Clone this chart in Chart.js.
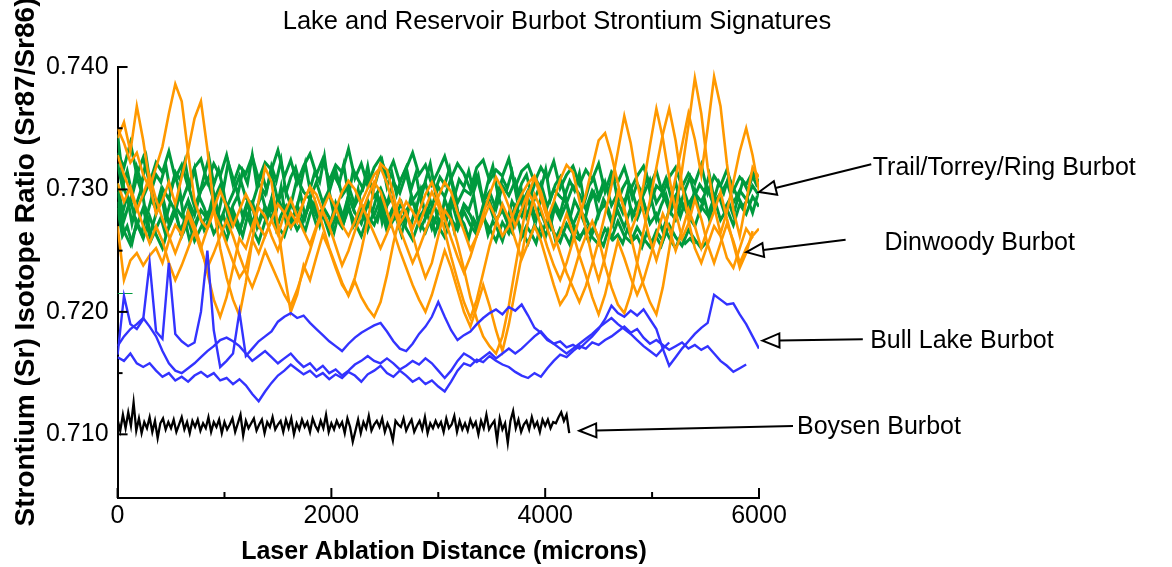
<!DOCTYPE html>
<html>
<head>
<meta charset="utf-8">
<script src="https://cdn.jsdelivr.net/npm/chart.js@4.4.1/dist/chart.umd.min.js"></script>
<style>
  body { margin: 0; background: #fff; }
  canvas { display: block; }
</style>
</head>
<body>
<canvas id="srChart" width="1172" height="567"></canvas>
<script>
const chartTitle = 'Lake and Reservoir Burbot Strontium Signatures';
const xTitle = 'Laser Ablation Distance (microns)';
const yTitle = 'Strontium (Sr) Isotope Ratio (Sr87/Sr86)';

// tick positions
const xTicks = [0, 1000, 2000, 3000, 4000, 5000, 6000];
const yTicks = [0.710, 0.715, 0.720, 0.725, 0.730, 0.735, 0.740];

// sample spacing along the transect (microns)
const lakeStep = 60;
const trailStepB = 45;
const boysenStep = 25;

// Trail / Torrey / Ring burbot (green)
const trail1 = [
  .7330,.7318,.7338,.7312,.7326,.7305,.7322,.7314,.7331,.7309,
  .7320,.7302,.7318,.7325,.7306,.7321,.7311,.7328,.7304,.7319,
  .7313,.7327,.7308,.7322,.7316,.7332,.7310,.7324,.7305,.7319,
  .7329,.7312,.7325,.7307,.7320,.7314,.7333,.7309,.7321,.7303,
  .7318,.7326,.7311,.7323,.7306,.7317,.7330,.7312,.7320,.7304,
  .7315,.7327,.7309,.7321,.7313,.7300,.7318,.7324,.7307,.7316,
  .7311,.7325,.7302,.7315,.7320,.7306,.7318,.7309,.7323,.7301,
  .7312,.7319,.7304,.7316,.7308,.7321,.7298,.7314,.7306,.7318,
  .7300,.7311,.7319,.7303,.7315,.7296,.7310,.7318,.7302,.7313,
  .7305,.7320,.7297,.7311,.7303,.7316,.7299,.7310,.7304,.7314,
  .7306];
const trail2 = [
  .7345,.7300,.7289,.7310,.7294,.7306,.7283,.7301,.7292,.7312,
  .7290,.7304,.7286,.7299,.7308,.7291,.7303,.7285,.7297,.7311,
  .7293,.7288,.7305,.7296,.7314,.7290,.7302,.7287,.7309,.7298,
  .7292,.7306,.7289,.7300,.7316,.7295,.7303,.7287,.7298,.7310,
  .7294,.7301,.7288,.7306,.7297,.7313,.7291,.7299,.7305,.7286,
  .7302,.7294,.7309,.7289,.7300,.7296,.7311,.7290,.7298,.7284,
  .7303,.7295,.7307,.7288,.7299,.7292,.7305,.7286,.7300,.7294,
  .7289,.7303,.7296,.7284,.7299,.7291,.7306,.7287,.7297,.7290,
  .7302,.7285,.7296,.7308,.7289,.7298,.7283,.7295,.7304,.7288,
  .7297,.7290,.7301,.7286,.7296,.7306,.7289,.7299,.7292,.7303,
  .7295];
const trail3 = [
  .7305,.7275,.7292,.7270,.7285,.7262,.7280,.7295,.7272,.7286,
  .7278,.7291,.7268,.7283,.7276,.7297,.7274,.7288,.7279,.7265,
  .7284,.7290,.7271,.7286,.7277,.7293,.7280,.7269,.7287,.7275,
  .7291,.7279,.7284,.7268,.7289,.7276,.7295,.7281,.7272,.7288,
  .7279,.7293,.7274,.7286,.7270,.7283,.7290,.7277,.7285,.7268,
  .7282,.7276,.7292,.7273,.7287,.7279,.7266,.7284,.7291,.7275,
  .7283,.7270,.7287,.7278,.7292,.7274,.7281,.7268,.7286,.7276,
  .7289,.7271,.7283,.7277,.7264,.7281,.7288,.7273,.7282,.7269,
  .7285,.7276,.7290,.7272,.7280,.7266,.7283,.7275,.7289,.7278,
  .7270,.7286,.7279,.7293,.7275,.7284,.7271,.7288,.7280,.7294,
  .7286];
const trail4 = [
  .7290,.7266,.7255,.7272,.7260,.7278,.7263,.7252,.7270,.7281,
  .7262,.7275,.7258,.7269,.7280,.7264,.7273,.7259,.7276,.7266,
  .7282,.7268,.7257,.7274,.7285,.7270,.7262,.7279,.7267,.7276,
  .7288,.7271,.7280,.7264,.7277,.7269,.7284,.7273,.7262,.7278,
  .7271,.7286,.7266,.7275,.7281,.7268,.7259,.7274,.7265,.7279,
  .7270,.7261,.7276,.7267,.7282,.7271,.7263,.7277,.7268,.7258,
  .7273,.7264,.7279,.7266,.7256,.7271,.7262,.7276,.7265,.7257,
  .7272,.7263,.7259,.7270,.7261,.7255,.7268,.7260,.7274,.7262,
  .7257,.7269,.7260,.7253,.7266,.7258,.7271,.7261,.7254,.7267,
  .7259,.7252,.7258];
const trail5 = [
  .7321,.7302,.7315,.7296,.7318,.7304,.7325,.7299,.7312,.7306,
  .7320,.7298,.7314,.7308,.7323,.7301,.7317,.7295,.7311,.7326,
  .7304,.7316,.7300,.7322,.7309,.7296,.7315,.7305,.7328,.7302,
  .7313,.7299,.7319,.7307,.7324,.7297,.7310,.7318,.7303,.7321,
  .7300,.7314,.7306,.7327,.7298,.7312,.7304,.7320,.7295,.7316,
  .7308,.7301,.7319,.7297,.7311,.7323,.7302,.7314,.7296,.7309,
  .7318,.7300,.7313,.7292,.7307,.7321,.7299,.7310,.7304,.7317,
  .7294,.7308,.7302,.7315,.7298,.7311,.7290,.7306,.7319,.7297,
  .7309,.7301,.7314,.7293,.7305,.7312,.7296,.7308,.7300,.7316,
  .7292,.7304,.7310,.7295,.7307,.7299,.7313,.7289,.7303,.7309,
  .7294,.7306,.7298,.7312,.7290,.7301,.7308,.7293,.7305,.7297,
  .7311,.7291,.7303,.7299,.7309,.7294,.7306,.7288,.7300,.7310,
  .7295,.7304,.7298,.7312,.7292,.7306,.7297,.7310,.7301,.7293,
  .7307,.7299,.7311,.7302];
const trail6 = [
  .7298,.7280,.7295,.7272,.7289,.7301,.7277,.7292,.7284,.7299,
  .7275,.7290,.7282,.7297,.7270,.7288,.7279,.7294,.7285,.7273,
  .7291,.7281,.7299,.7276,.7287,.7295,.7278,.7290,.7271,.7286,
  .7296,.7280,.7292,.7283,.7302,.7274,.7289,.7281,.7297,.7277,
  .7293,.7285,.7271,.7290,.7298,.7279,.7288,.7276,.7295,.7284,
  .7300,.7278,.7291,.7282,.7296,.7273,.7287,.7293,.7280,.7289,
  .7275,.7294,.7283,.7299,.7277,.7290,.7285,.7270,.7292,.7281,
  .7297,.7276,.7288,.7283,.7295,.7272,.7287,.7291,.7279,.7296,
  .7284,.7274,.7290,.7282,.7298,.7278,.7289,.7275,.7293,.7285,
  .7270,.7288,.7280,.7296,.7276,.7291,.7283,.7273,.7289,.7297,
  .7279,.7292,.7284,.7271,.7290,.7281,.7298,.7277,.7288,.7294,
  .7280,.7291,.7275,.7287,.7296,.7282,.7293,.7278,.7290,.7284,
  .7299,.7281,.7292,.7276,.7289,.7295,.7283,.7290,.7279,.7294,
  .7286,.7292,.7281,.7295];
const trail7 = [
  .7285,.7262,.7270,.7256,.7274,.7264,.7281,.7259,.7268,.7277,
  .7263,.7272,.7284,.7266,.7275,.7258,.7271,.7280,.7267,.7276,
  .7289,.7270,.7279,.7265,.7283,.7273,.7262,.7278,.7287,.7269,
  .7281,.7274,.7292,.7268,.7279,.7286,.7271,.7283,.7275,.7266,
  .7280,.7290,.7272,.7284,.7277,.7265,.7281,.7273,.7288,.7270,
  .7278,.7285,.7267,.7279,.7274,.7290,.7269,.7282,.7276,.7263,
  .7280,.7271,.7286,.7268,.7277,.7283,.7264,.7275,.7270,.7284,
  .7266,.7278,.7272,.7260,.7276,.7269,.7281,.7263,.7274,.7267,
  .7258,.7272,.7265,.7279,.7261,.7270,.7264,.7256,.7271,.7262,
  .7275,.7259,.7268,.7263,.7255,.7270,.7261,.7266,.7257,.7269,
  .7260,.7254,.7267,.7259,.7263,.7256,.7268,.7258,.7262,.7253,
  .7265,.7257,.7261,.7254,.7266,.7258,.7252,.7262,.7256,.7260,
  .7255];
const trailMarkX = [0, 140];
const trailMark = [.7215, .7215];

// Dinwoody burbot (orange)
const dinwoody1 = [
  .7350,.7338,.7322,.7330,.7312,.7301,.7318,.7335,.7362,.7386,
  .7372,.7330,.7291,.7275,.7268,.7282,.7270,.7255,.7241,.7228,
  .7236,.7259,.7248,.7262,.7275,.7263,.7280,.7292,.7278,.7266,
  .7255,.7270,.7284,.7296,.7285,.7271,.7262,.7274,.7289,.7301,
  .7312,.7318,.7305,.7287,.7268,.7254,.7240,.7252,.7266,.7280,
  .7294,.7306,.7298,.7281,.7266,.7251,.7262,.7275,.7288,.7276,
  .7262,.7270,.7284,.7296,.7305,.7311,.7298,.7280,.7265,.7248,
  .7232,.7220,.7208,.7221,.7239,.7258,.7280,.7303,.7331,.7360,
  .7338,.7306,.7281,.7259,.7242,.7260,.7284,.7310,.7336,.7362,
  .7341,.7312,.7350,.7392,.7368,.7321,.7283,.7262,.7290,.7318,
  .7310];
const dinwoody2 = [
  .7342,.7355,.7331,.7368,.7340,.7305,.7280,.7291,.7306,.7288,
  .7310,.7332,.7358,.7372,.7333,.7285,.7252,.7228,.7210,.7197,
  .7224,.7258,.7291,.7318,.7306,.7270,.7232,.7200,.7214,.7238,
  .7226,.7245,.7263,.7251,.7236,.7222,.7214,.7228,.7250,.7275,
  .7302,.7321,.7316,.7296,.7272,.7281,.7263,.7244,.7228,.7240,
  .7262,.7283,.7275,.7256,.7235,.7212,.7194,.7180,.7172,.7166,
  .7180,.7205,.7236,.7266,.7295,.7310,.7293,.7276,.7290,.7308,
  .7320,.7314,.7291,.7268,.7244,.7226,.7245,.7271,.7298,.7285,
  .7262,.7240,.7222,.7208,.7198,.7220,.7251,.7282,.7316,.7352,
  .7391,.7362,.7318,.7286,.7264,.7282,.7306,.7331,.7350,.7328,
  .7299];
const dinwoody3 = [
  .7270,.7226,.7242,.7248,.7238,.7246,.7252,.7240,.7258,.7271,
  .7263,.7282,.7270,.7254,.7232,.7210,.7196,.7212,.7236,.7260,
  .7252,.7270,.7285,.7278,.7262,.7250,.7266,.7281,.7273,.7290,
  .7302,.7288,.7270,.7252,.7238,.7224,.7213,.7225,.7212,.7203,
  .7196,.7208,.7230,.7256,.7278,.7290,.7282,.7271,.7285,.7298,
  .7287,.7266,.7245,.7226,.7208,.7195,.7210,.7232,.7254,.7272,
  .7288,.7276,.7259,.7243,.7256,.7270,.7258,.7240,.7222,.7206,
  .7214,.7230,.7248,.7262,.7274,.7260,.7238,.7220,.7206,.7199,
  .7215,.7240,.7266,.7291,.7318,.7345,.7366,.7340,.7304,.7275,
  .7252,.7240,.7255,.7270,.7262,.7244,.7236,.7252,.7268,.7260];
const dinwoody4 = [
  .7328,.7312,.7298,.7283,.7296,.7311,.7292,.7276,.7262,.7248,
  .7262,.7279,.7265,.7252,.7268,.7284,.7299,.7286,.7270,.7283,
  .7296,.7285,.7270,.7262,.7275,.7288,.7281,.7269,.7276,.7290,
  .7302,.7296,.7282,.7270,.7284,.7298,.7307,.7300,.7288,.7276,
  .7264,.7252,.7264,.7279,.7292,.7280,.7268,.7282,.7296,.7306,
  .7292,.7276,.7260,.7245,.7232,.7245,.7262,.7280,.7296,.7310,
  .7300,.7286,.7270,.7284,.7298,.7288,.7270,.7253,.7238,.7226,
  .7240,.7258,.7277,.7296,.7318,.7340,.7346,.7328,.7305,.7282,
  .7265,.7280,.7304,.7336,.7366,.7342,.7310,.7282,.7260,.7272,
  .7292,.7276,.7255,.7240,.7256,.7272,.7258,.7240,.7252,.7262,
  .7268];
const dinwoody5 = [
  .7305,.7290,.7302,.7285,.7270,.7256,.7270,.7258,.7240,.7226,
  .7238,.7252,.7266,.7250,.7236,.7248,.7262,.7275,.7262,.7246,
  .7232,.7220,.7234,.7250,.7238,.7226,.7214,.7205,.7218,.7234,
  .7250,.7268,.7282,.7270,.7254,.7238,.7250,.7266,.7280,.7294,
  .7306,.7298,.7282,.7266,.7250,.7236,.7222,.7210,.7200,.7214,
  .7232,.7250,.7236,.7218,.7200,.7188,.7204,.7222,.7205,.7185,
  .7168,.7190,.7218,.7246,.7274,.7296,.7284,.7268,.7252,.7264,
  .7280,.7264,.7246,.7230,.7212,.7198,.7214,.7236,.7258,.7244,
  .7228,.7214,.7226,.7244,.7262,.7280,.7268,.7250,.7266,.7284,
  .7270,.7252,.7268,.7282,.7298,.7276,.7256,.7236,.7248,.7266];

// Bull Lake burbot (blue)
const bullLake1 = [
  .7165,.7213,.7190,.7186,.7194,.7240,.7184,.7178,.7240,.7182,
  .7176,.7172,.7175,.7200,.7250,.7185,.7155,.7160,.7166,.7200,
  .7164,.7170,.7176,.7180,.7184,.7192,.7196,.7199,.7195,.7197,
  .7191,.7186,.7181,.7176,.7172,.7168,.7174,.7179,.7183,.7186,
  .7189,.7191,.7184,.7176,.7170,.7168,.7174,.7182,.7188,.7196,
  .7208,.7196,.7185,.7177,.7181,.7184,.7190,.7195,.7199,.7202,
  .7198,.7204,.7201,.7206,.7197,.7187,.7183,.7177,.7174,.7176,
  .7171,.7173,.7170,.7175,.7180,.7186,.7194,.7205,.7199,.7196,
  .7201,.7197,.7202,.7194,.7186,.7170,.7156,.7163,.7170,.7176,
  .7182,.7187,.7191,.7214,.7210,.7206,.7207,.7198,.7190,.7180,
  .7170];
const bullLake2 = [
  .7163,.7160,.7166,.7158,.7155,.7158,.7152,.7147,.7150,.7144,
  .7147,.7143,.7148,.7151,.7147,.7150,.7144,.7146,.7141,.7145,
  .7140,.7133,.7127,.7135,.7142,.7148,.7152,.7157,.7153,.7149,
  .7152,.7147,.7150,.7145,.7149,.7146,.7151,.7148,.7143,.7149,
  .7152,.7156,.7150,.7147,.7152,.7148,.7143,.7146,.7141,.7144,
  .7139,.7135,.7143,.7152,.7158,.7156,.7161,.7159,.7164,.7160,
  .7157,.7155,.7151,.7148,.7146,.7150,.7147,.7154,.7160,.7165,
  .7163,.7168,.7172,.7170,.7175,.7173,.7177,.7180,.7184,.7188,
  .7183,.7186,.7179,.7174,.7177,.7173,.7169,.7172,.7175,.7170,
  .7173,.7169,.7172,.7166,.7160,.7156,.7151,.7154,.7157];
const bullLake3 = [
  .7172,.7180,.7186,.7190,.7195,.7188,.7180,.7168,.7158,.7152,
  .7150,.7154,.7158,.7163,.7168,.7172,.7177,.7179,.7176,.7172,
  .7166,.7160,.7164,.7168,.7163,.7158,.7162,.7166,.7160,.7155,
  .7158,.7152,.7156,.7150,.7153,.7148,.7152,.7157,.7160,.7164,
  .7160,.7158,.7162,.7158,.7153,.7156,.7160,.7157,.7162,.7158,
  .7152,.7146,.7152,.7160,.7166,.7163,.7159,.7163,.7167,.7162,
  .7166,.7170,.7166,.7170,.7175,.7180,.7184,.7178,.7174,.7170,
  .7166,.7170,.7174,.7178,.7182,.7187,.7191,.7195,.7190,.7186,
  .7182,.7177,.7172,.7168,.7164,.7170,.7175];

// Boysen burbot (black)
const boysen = [
  .7112,.7103,.7116,.7105,.7118,.7107,.7126,.7103,.7113,.7101,
  .7110,.7105,.7114,.7102,.7111,.7097,.7109,.7113,.7104,.7110,
  .7105,.7112,.7102,.7108,.7114,.7104,.7110,.7101,.7111,.7106,
  .7112,.7103,.7109,.7105,.7114,.7102,.7110,.7106,.7112,.7101,
  .7110,.7104,.7108,.7113,.7102,.7109,.7116,.7099,.7111,.7105,
  .7109,.7113,.7103,.7108,.7112,.7101,.7110,.7106,.7114,.7104,
  .7108,.7111,.7102,.7112,.7105,.7113,.7100,.7109,.7104,.7112,
  .7106,.7110,.7102,.7113,.7107,.7103,.7111,.7105,.7116,.7102,
  .7109,.7104,.7111,.7106,.7110,.7101,.7113,.7106,.7094,.7103,
  .7112,.7101,.7110,.7105,.7115,.7103,.7108,.7111,.7106,.7113,
  .7102,.7109,.7104,.7095,.7111,.7108,.7106,.7113,.7103,.7108,
  .7112,.7102,.7107,.7111,.7104,.7114,.7101,.7109,.7105,.7111,
  .7106,.7110,.7102,.7113,.7105,.7108,.7115,.7102,.7111,.7104,
  .7109,.7103,.7112,.7106,.7110,.7100,.7111,.7105,.7116,.7104,
  .7108,.7111,.7095,.7113,.7104,.7109,.7093,.7111,.7119,.7105,
  .7112,.7102,.7108,.7111,.7104,.7114,.7106,.7110,.7102,.7112,
  .7107,.7112,.7105,.7110,.7109,.7114,.7118,.7111,.7116,.7101];

// labels + arrows, placed in data units (tip, tail, text anchor)
const notes = [
  { text: 'Trail/Torrey/Ring Burbot', tip: [6000, .72979], tail: [7050, .73206], at: [7064, .73122] },
  { text: 'Dinwoody Burbot', tip: [5882, .72488], tail: [6810, .72590], at: [7174, .72508] },
  { text: 'Bull Lake Burbot', tip: [6032, .71765], tail: [6971, .71776], at: [7040, .71702] },
  { text: 'Boysen Burbot', tip: [4319, .71029], tail: [6318, .71069], at: [6355, .71002] }
];

const GREEN = '#009a3e';
const ORANGE = '#ff9900';
const BLUE = '#3333ff';
const FONT = '"Liberation Sans", Arial, Helvetica, sans-serif';

function pts(ys, step) {
  return ys.map((y, i) => ({ x: i * step, y: y }));
}
function line(data, color, width, order) {
  return { data: data, borderColor: color, borderWidth: width, pointRadius: 0, fill: false, order: order };
}

const datasets = [];
[trail1, trail2, trail3, trail4].forEach(s => datasets.push(line(pts(s, lakeStep), GREEN, 3, 3)));
[trail5, trail6, trail7].forEach(s => datasets.push(line(pts(s, trailStepB), GREEN, 3, 3)));
datasets.push(line(trailMarkX.map((x, i) => ({ x: x, y: trailMark[i] })), GREEN, 1.2, 3));
[dinwoody1, dinwoody2, dinwoody3, dinwoody4, dinwoody5].forEach(s => datasets.push(line(pts(s, lakeStep), ORANGE, 2.6, 2)));
[bullLake1, bullLake2, bullLake3].forEach(s => datasets.push(line(pts(s, lakeStep), BLUE, 2.4, 1)));
datasets.push(line(pts(boysen, boysenStep), '#000', 2.3, 0));

function drawArrow(ctx, tx, ty, fx, fy) {
  const ang = Math.atan2(ty - fy, tx - fx);
  const hl = 17, hw = 7;
  const bx = tx - hl * Math.cos(ang), by = ty - hl * Math.sin(ang);
  ctx.beginPath();
  ctx.moveTo(fx, fy);
  ctx.lineTo(bx, by);
  ctx.stroke();
  ctx.beginPath();
  ctx.moveTo(tx, ty);
  ctx.lineTo(bx + hw * Math.sin(ang), by - hw * Math.cos(ang));
  ctx.lineTo(bx - hw * Math.sin(ang), by + hw * Math.cos(ang));
  ctx.closePath();
  ctx.fillStyle = '#fff';
  ctx.fill();
  ctx.stroke();
}

const decor = {
  id: 'decor',
  afterDraw(chart) {
    const { ctx, chartArea: a, scales: { x, y } } = chart;
    ctx.save();
    ctx.strokeStyle = '#000';
    ctx.lineWidth = 2;

    // ticks point inwards
    x.ticks.forEach(t => {
      const px = x.getPixelForValue(t.value);
      const len = t.value % 2000 === 0 ? 10 : 6;
      ctx.beginPath();
      ctx.moveTo(px, a.bottom);
      ctx.lineTo(px, a.bottom - len);
      ctx.stroke();
    });
    y.ticks.forEach(t => {
      const py = y.getPixelForValue(t.value);
      const len = Math.round(t.value * 1000) % 10 === 0 ? 10 : 5;
      ctx.beginPath();
      ctx.moveTo(a.left, py);
      ctx.lineTo(a.left + len, py);
      ctx.stroke();
    });

    ctx.fillStyle = '#000';
    ctx.textAlign = 'center';
    ctx.textBaseline = 'alphabetic';
    ctx.font = '25.5px ' + FONT;
    ctx.fillText(chartTitle, 557, 29);
    ctx.font = 'bold 25px ' + FONT;
    ctx.fillText(xTitle, 444, 559);
    ctx.save();
    ctx.translate(34, 262);
    ctx.rotate(-Math.PI / 2);
    ctx.font = 'bold 28px ' + FONT;
    ctx.fillText(yTitle, 0, 0);
    ctx.restore();

    ctx.font = '25px ' + FONT;
    ctx.textAlign = 'left';
    notes.forEach(n => {
      ctx.strokeStyle = '#000';
      ctx.lineWidth = 2;
      drawArrow(ctx, x.getPixelForValue(n.tip[0]), y.getPixelForValue(n.tip[1]),
        x.getPixelForValue(n.tail[0]), y.getPixelForValue(n.tail[1]));
      ctx.fillStyle = '#000';
      ctx.fillText(n.text, x.getPixelForValue(n.at[0]), y.getPixelForValue(n.at[1]));
    });
    ctx.restore();
  }
};

new Chart(document.getElementById('srChart').getContext('2d'), {
  type: 'line',
  data: { datasets: datasets },
  options: {
    responsive: false,
    animation: false,
    layout: { padding: { left: 37, right: 413, top: 67, bottom: 33 } },
    plugins: { legend: { display: false }, tooltip: { enabled: false }, title: { display: false } },
    elements: { line: { tension: 0 }, point: { radius: 0 } },
    scales: {
      x: {
        type: 'linear', min: 0, max: 6000,
        afterBuildTicks: s => { s.ticks = xTicks.map(v => ({ value: v })); },
        grid: { display: false, drawTicks: false },
        border: { display: true, color: '#000', width: 2 },
        ticks: {
          color: '#000', padding: 3, maxRotation: 0, autoSkip: false,
          font: { family: FONT, size: 25 },
          callback: v => (v % 2000 === 0 ? String(v) : '')
        }
      },
      y: {
        type: 'linear', min: 0.7048, max: 0.740,
        afterBuildTicks: s => { s.ticks = yTicks.map(v => ({ value: v })); },
        grid: { display: false, drawTicks: false },
        border: { display: true, color: '#000', width: 2 },
        ticks: {
          color: '#000', padding: 9, autoSkip: false,
          font: { family: FONT, size: 25 },
          callback: v => (Math.round(v * 1000) % 10 === 0 ? v.toFixed(3) : '')
        }
      }
    }
  },
  plugins: [decor]
});
</script>
</body>
</html>
